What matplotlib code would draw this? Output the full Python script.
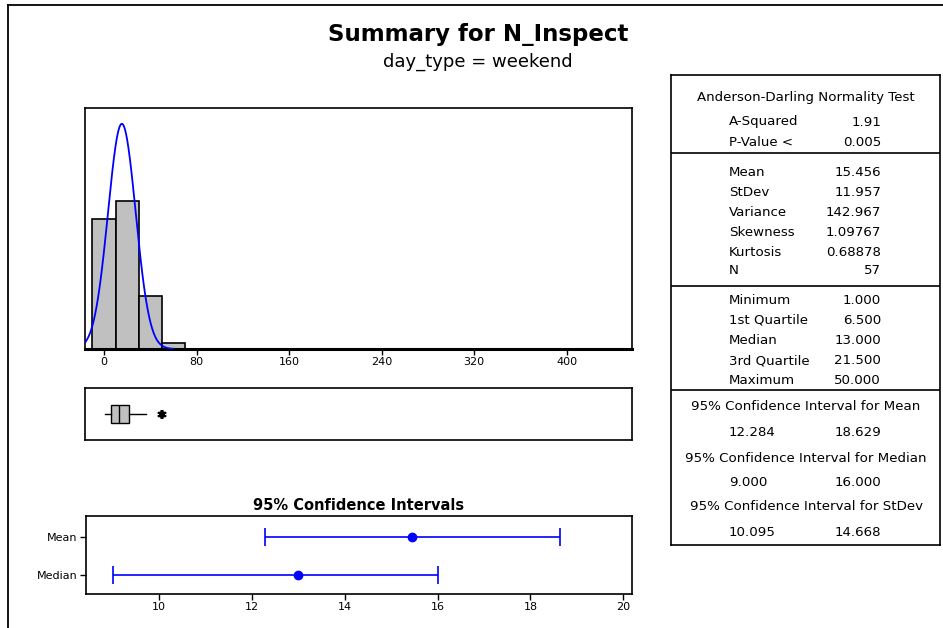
import numpy as np
import matplotlib
matplotlib.use("Agg")
import matplotlib.pyplot as plt
from matplotlib.lines import Line2D

plt.rcParams['font.family'] = ['DejaVu Sans']

# ---- data ----
variable = "N_Inspect"
group_label = "day_type = weekend"

bin_edges = [-10, 10, 30, 50, 70]
bin_counts = [22, 25, 9, 1]
hist_ticks = [0, 80, 160, 240, 320, 400]

mean = 15.456
stdev = 11.957
n_obs = 57

q1 = 6.5
median = 13.0
q3 = 21.5
whisker_low = 1.0
whisker_high = 36.5
outliers = [49.0, 50.0]

ci_labels = ["Median", "Mean"]
ci_centers = [13.0, 15.456]
ci_lows = [9.0, 12.284]
ci_highs = [16.0, 18.629]
ci_ticks = [10, 12, 14, 16, 18, 20]

ad_rows = [("A-Squared", "1.91"), ("P-Value <", "0.005")]
moment_rows = [("Mean", "15.456"), ("StDev", "11.957"), ("Variance", "142.967"),
               ("Skewness", "1.09767"), ("Kurtosis", "0.68878"), ("N", "57")]
quantile_rows = [("Minimum", "1.000"), ("1st Quartile", "6.500"), ("Median", "13.000"),
                 ("3rd Quartile", "21.500"), ("Maximum", "50.000")]
ci_rows = [("95% Confidence Interval for Mean", "12.284", "18.629"),
           ("95% Confidence Interval for Median", "9.000", "16.000"),
           ("95% Confidence Interval for StDev", "10.095", "14.668")]

# ---- figure ----
W, H = 943, 628
fig = plt.figure(figsize=(W / 100, H / 100), dpi=100)


def px_axes(left, top, right, bottom):
    return fig.add_axes([left / W, 1 - bottom / H, (right - left) / W, (bottom - top) / H])


# outer frame
fig.add_artist(Line2D([8 / W, 8 / W], [0, 1 - 5 / H], transform=fig.transFigure, color='black', lw=1.3))
fig.add_artist(Line2D([8 / W, 1], [1 - 5 / H, 1 - 5 / H], transform=fig.transFigure, color='black', lw=1.3))

fig.text(478 / W, 1 - 35 / H, f"Summary for {variable}", ha='center', va='center',
         fontsize=16.5, fontweight='bold')
fig.text(478 / W, 1 - 62 / H, group_label, ha='center', va='center', fontsize=13)

xlim_hist = (-16.4, 456.4)

# histogram with fitted normal curve
ax_h = px_axes(85, 108, 632, 349)
centers = [(a + b) / 2 for a, b in zip(bin_edges[:-1], bin_edges[1:])]
widths = [b - a for a, b in zip(bin_edges[:-1], bin_edges[1:])]
ax_h.bar(centers, bin_counts, width=widths, color='#c0c0c0', edgecolor='black', linewidth=1.2, zorder=2)
xs = np.linspace(xlim_hist[0], 60, 300)
pdf = n_obs * widths[0] * np.exp(-0.5 * ((xs - mean) / stdev) ** 2) / (stdev * np.sqrt(2 * np.pi))
ax_h.plot(xs, pdf, color='#0000ff', lw=1.3, zorder=3)
ax_h.set_xlim(*xlim_hist)
ax_h.set_ylim(0, 40.7)
ax_h.set_yticks([])
ax_h.set_xticks(hist_ticks)
ax_h.tick_params(axis='x', length=4, width=1, labelsize=8, pad=2)
for s in ax_h.spines.values():
    s.set_linewidth(1.2)
ax_h.spines['bottom'].set_linewidth(2.2)

# boxplot
ax_b = px_axes(85, 388, 632, 440)
stats = [dict(q1=q1, med=median, q3=q3, whislo=whisker_low, whishi=whisker_high, fliers=outliers)]
ax_b.bxp(stats, vert=False, positions=[0], widths=[0.36], showcaps=False, patch_artist=True,
         boxprops=dict(facecolor='#c0c0c0', edgecolor='black', linewidth=1.0),
         medianprops=dict(color='black', linewidth=1.0),
         whiskerprops=dict(color='black', linewidth=1.0),
         flierprops=dict(marker=(6, 2, 0), markersize=6, markeredgecolor='black', markeredgewidth=1.3))
ax_b.set_xlim(*xlim_hist)
ax_b.set_ylim(-0.5, 0.5)
ax_b.set_xticks([])
ax_b.set_yticks([])
for s in ax_b.spines.values():
    s.set_linewidth(1.2)

# confidence intervals
ax_c = px_axes(86, 516, 632, 594)
ypos = [0, 1]
for y, c, lo, hi in zip(ypos, ci_centers, ci_lows, ci_highs):
    ax_c.errorbar([c], [y], xerr=[[c - lo], [hi - c]], fmt='o', color='#0000ff',
                  markersize=6, elinewidth=1.2, capsize=6.5, capthick=1.2)
ax_c.set_xlim(8.42, 20.19)
ax_c.set_ylim(-0.5, 1.56)
ax_c.set_yticks(ypos)
ax_c.set_yticklabels(ci_labels)
ax_c.set_xticks(ci_ticks)
ax_c.tick_params(axis='both', length=4, width=1, labelsize=8, pad=2)
for s in ax_c.spines.values():
    s.set_linewidth(1.2)
ax_c.set_title("95% Confidence Intervals", fontsize=10.5, fontweight='bold', pad=4)

# summary table
ax_t = px_axes(671, 75, 940, 545)
ax_t.set_xlim(671, 940)
ax_t.set_ylim(545, 75)
ax_t.set_xticks([])
ax_t.set_yticks([])
for s in ax_t.spines.values():
    s.set_linewidth(1.2)
for yd in (153, 286, 390):
    ax_t.axhline(yd, color='black', lw=1.2)

fs = 9.6
lab_x, val_x, mid_x = 729, 881, 806
ax_t.text(mid_x, 98, "Anderson-Darling Normality Test", ha='center', va='center', fontsize=fs)
for (lab, val), y in zip(ad_rows, [122, 142]):
    ax_t.text(lab_x, y, lab, ha='left', va='center', fontsize=fs)
    ax_t.text(val_x, y, val, ha='right', va='center', fontsize=fs)
for (lab, val), y in zip(moment_rows, [172, 192, 212, 232, 252, 271]):
    ax_t.text(lab_x, y, lab, ha='left', va='center', fontsize=fs)
    ax_t.text(val_x, y, val, ha='right', va='center', fontsize=fs)
for (lab, val), y in zip(quantile_rows, [301, 320, 340, 361, 381]):
    ax_t.text(lab_x, y, lab, ha='left', va='center', fontsize=fs)
    ax_t.text(val_x, y, val, ha='right', va='center', fontsize=fs)
for (head, lo, hi), yh, yv in zip(ci_rows, [407, 458, 506], [432, 482, 532]):
    ax_t.text(mid_x, yh, head, ha='center', va='center', fontsize=fs)
    ax_t.text(lab_x, yv, lo, ha='left', va='center', fontsize=fs)
    ax_t.text(val_x, yv, hi, ha='right', va='center', fontsize=fs)

fig.savefig("out.png", dpi=100)
